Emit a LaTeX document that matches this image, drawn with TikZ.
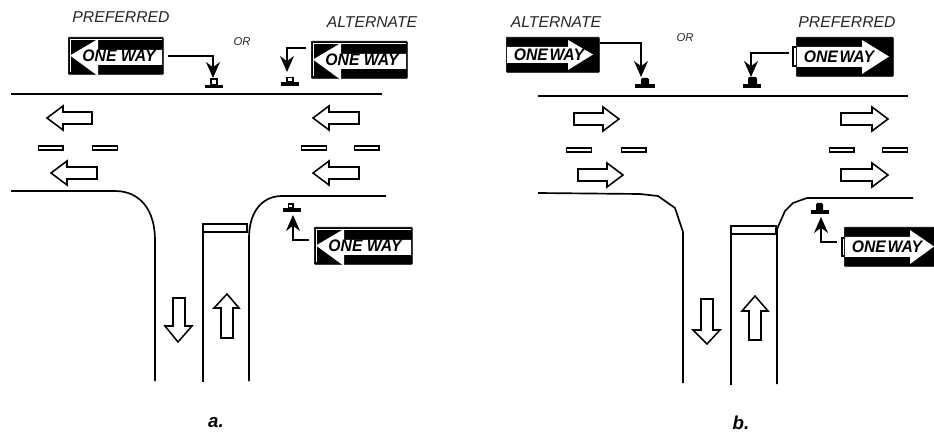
\documentclass[tikz,border=0pt]{standalone}
\usepackage{graphicx}
\usepackage{fontspec}
\setmainfont{Liberation Sans}
\usetikzlibrary{arrows.meta}
\tikzset{
  road/.style={line width=1.25pt},
  lead/.style={line width=1.2pt,-{Stealth[length=12pt,width=10.5pt]}},
  blockarrow/.style={draw,line width=1.15pt,fill=white,miter limit=10},
  dashbox/.style={draw,line width=1pt,fill=white,inner sep=0pt,minimum width=18.5pt,minimum height=3.2pt},
  signbg/.style={fill=black,draw=black,line width=0.5pt,rounded corners=0.6pt},
  signtext/.style={font=\bfseries\itshape\fontsize{11.8pt}{12pt}\selectfont,inner sep=0pt},
  lbl/.style={font=\itshape\fontsize{11.8pt}{13pt}\selectfont,text=black!85,inner sep=0pt},
  orlbl/.style={font=\itshape\fontsize{8.5pt}{9pt}\selectfont,text=black!85,inner sep=0pt},
  caplbl/.style={font=\bfseries\itshape\fontsize{14pt}{15pt}\selectfont,inner sep=0pt},
}
\newcommand{\arrowL}[3]{% tip x, center y, end x
  \draw[blockarrow] (#1,#2) -- (#1+16,#2-12) -- (#1+16,#2-6) -- (#3,#2-6) -- (#3,#2+6) -- (#1+16,#2+6) -- (#1+16,#2+12) -- cycle;}
\newcommand{\arrowR}[3]{%
  \draw[blockarrow] (#1,#2) -- (#1-16,#2-12) -- (#1-16,#2-6) -- (#3,#2-6) -- (#3,#2+6) -- (#1-16,#2+6) -- (#1-16,#2+12) -- cycle;}
\newcommand{\dashpair}[3]{%
  \node[dashbox] at (#1,#3) {};
  \node[dashbox] at (#2,#3) {};}
% left-pointing sign: name, left, top, right, bottom
\newcommand{\signL}[5]{%
  \node[signbg,inner sep=0pt,minimum width=#4*0.75pt-#2*0.75pt,minimum height=#5*0.75pt-#3*0.75pt,anchor=north west] (#1) at (#2,#3) {};
  \draw[white,line width=0.6pt] (#4-1,#3+2) -- (#2+2,#3+2) -- (#2+2,#5-2);
  \fill[white] (#2+2,#3/2+#5/2) -- (#2+30,#3+2) -- (#2+30,#3+13) -- (#4-1,#3+13) -- (#4-1,#3+28) -- (#2+30,#3+28) -- (#2+30,#5+2) -- cycle;
  \node[signtext] at (#2+51,#3/2+#5/2) {\scalebox{1}[1.06]{ONE WAY}};}
% right-pointing sign
\newcommand{\signR}[7]{% name,left,top,right,bottom,headx,tipx
  \node[signbg,inner sep=0pt,minimum width=#4*0.75pt-#2*0.75pt,minimum height=#5*0.75pt-#3*0.75pt,anchor=north west] (#1) at (#2,#3) {};
  \fill[white] (#7,#3/2+#5/2) -- (#6,#3+3) -- (#6,#3+10) -- (#2+1,#3+10) -- (#2+1,#5-9) -- (#6,#5-9) -- (#6,#5-2) -- cycle;
  \node[signtext] at (#2+43,#3/2+#5/2) {\scalebox{1}[1.06]{ONE\hspace{0.1em}WAY}};}
\newcommand{\postbar}[5]{% name,barleft,barright,bartop,barbottom
  \node[fill=black,inner sep=0pt,minimum width=#3*0.75pt-#2*0.75pt,minimum height=#5*0.75pt-#4*0.75pt,anchor=north west] (#1) at (#2,#4) {};}
\begin{document}
\begin{tikzpicture}[x=0.75pt,y=-0.75pt]
\useasboundingbox (0,0) rectangle (934,434);
% roads a
\draw[road] (11,94) -- (382,94);
\draw[road] (11,191) -- (115,191) .. controls (140,191) and (155,210) .. (155,240) -- (155,381);
\draw[road] (249,381) -- (249,238) .. controls (249,212) and (262,196) .. (282,196) -- (386,196);
\draw[road] (203,382) -- (203,224) -- (247,224) -- (247,232) -- (203,232);
% roads b
\draw[road] (538,96) -- (908,96);
\draw[road] (538,193) -- (640,194) -- (658,196) -- (675,208) -- (683,232) -- (683,383);
\draw[road] (777,384) -- (777,229) -- (785,211) -- (793,203) -- (807,198) -- (913,198);
\draw[road] (731,385) -- (731,226) -- (776,226) -- (776,234) -- (731,234);
% block arrows a
\arrowL{47}{118}{92}
\arrowL{313}{118}{359}
\arrowL{313}{173}{359}
\arrowL{51}{173}{97}
\draw[blockarrow] (178,342) -- (165,326) -- (173,326) -- (173,298) -- (185,298) -- (185,326) -- (192,326) -- cycle;
\draw[blockarrow] (227,294) -- (214,308) -- (221,308) -- (221,338) -- (233,338) -- (233,308) -- (239,308) -- cycle;
% block arrows b
\arrowR{619}{119}{574}
\arrowR{888}{119}{841}
\arrowR{623}{175}{578}
\arrowR{888}{175}{841}
\draw[blockarrow] (707,344) -- (693,330) -- (701,330) -- (701,299) -- (713,299) -- (713,330) -- (720,330) -- cycle;
\draw[blockarrow] (755,296) -- (742,311) -- (749,311) -- (749,340) -- (761,340) -- (761,311) -- (768,311) -- cycle;
% dashes
\dashpair{50.5}{105}{148}
\dashpair{314}{366.5}{148}
\dashpair{579}{633.5}{150}
\dashpair{841.5}{895}{150}
% signs
\signL{sa}{68}{37}{163}{74}
\signL{sb}{311}{41}{407}{78}
\signL{sc}{314}{227}{412}{264}
\signR{sd}{506}{37}{599}{72}{568}{593}
\signR{se}{796}{37}{893}{76}{862}{889}
\signR{sf}{844}{227}{934}{266}{910}{934}
% outlines of the b sign shafts
\draw[line width=0.8pt] (se.north west |- 0,47) -- (793,47) -- (793,66) -- (se.south west |- 0,66);
\draw[line width=0.8pt] (sf.north west |- 0,238) -- (842,238) -- (842,256) -- (sf.south west |- 0,256);
% posts
\postbar{pa}{205}{223}{85}{88}
\draw[line width=0.9pt,fill=white] (211,85) rectangle (217,79);
\postbar{pb}{281}{299}{82}{86}
\draw[line width=0.9pt,fill=white] (287,82) rectangle (293,77.5);
\postbar{pc}{283}{301}{208}{212}
\draw[line width=0.9pt,fill=white] (288.5,208) rectangle (293,204);
\postbar{pd}{635}{655}{84}{88}
\fill[rounded corners=1pt] (641,85) rectangle (649,78);
\postbar{pe}{743}{761}{84}{88}
\fill[rounded corners=1pt] (748,85) rectangle (757,77);
\postbar{pf}{811}{829}{210}{214}
\fill[rounded corners=1pt] (816,211) rectangle (823,203);
% connectors
\coordinate (ca) at (168,56);
\coordinate (ta) at (213,78);
\draw[lead] (ca) -| (ta);
\coordinate (cb) at (306,48);
\coordinate (tb) at (287,72);
\draw[lead] (cb) -| (tb);
\coordinate (cc) at (309,240);
\coordinate (tc) at (293,215);
\draw[lead] (cc) -| (tc);
\coordinate (td) at (641,77);
\draw[lead] (sd.east |- 0,43) -| (td);
\coordinate (ce) at (789,53);
\coordinate (te) at (751,77);
\draw[lead] (ce) -| (te);
\coordinate (cf) at (837,242);
\coordinate (tf) at (821,217);
\draw[lead] (cf) -| (tf);
% labels
\node[lbl] (l1) at (121,17) {PREFERRED};
\node[lbl] (l2) at (372,22) {ALTERNATE};
\node[lbl] (l3) at (556,22) {ALTERNATE};
\node[lbl] (l4) at (847,22) {PREFERRED};
\node[orlbl] (o1) at (242,42) {OR};
\node[orlbl] (o2) at (685,38) {OR};
\node[caplbl] (c1) at (216,423) {a.};
\node[caplbl] (c2) at (741,423) {b.};
\end{tikzpicture}
\end{document}
